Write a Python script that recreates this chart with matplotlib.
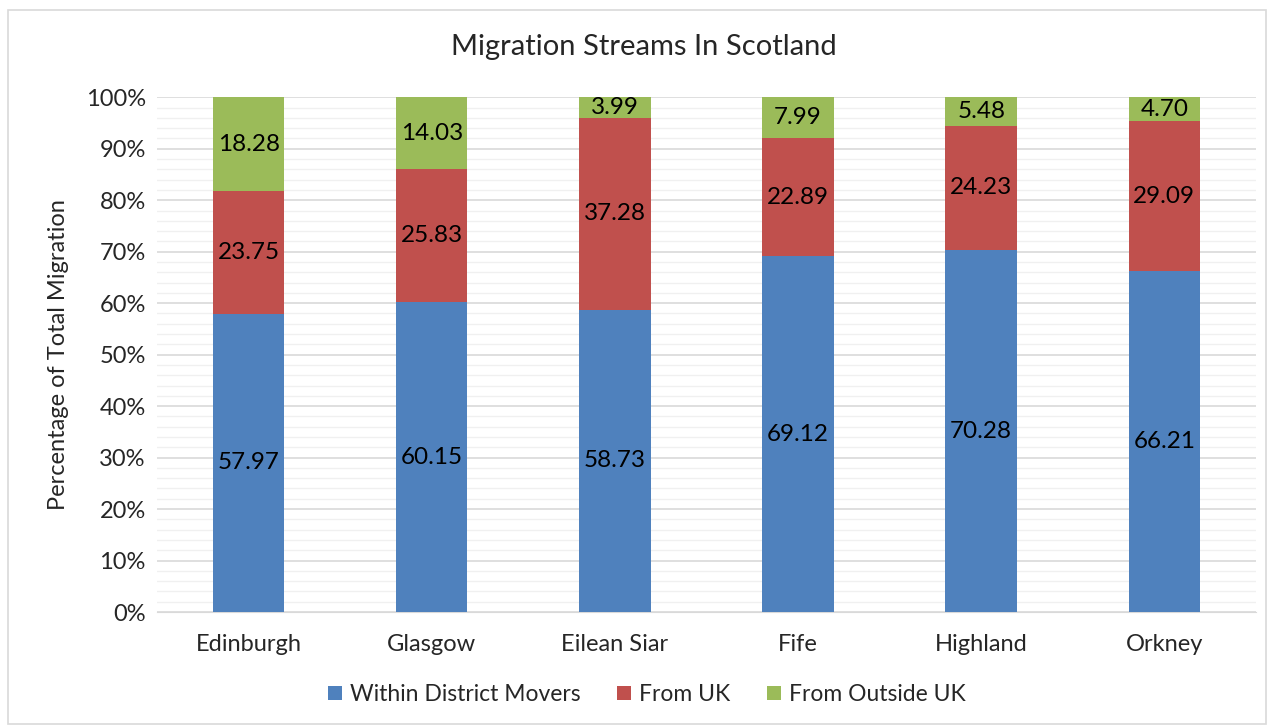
import matplotlib.pyplot as plt
import numpy as np
from matplotlib.patches import Rectangle
from matplotlib.ticker import MultipleLocator, PercentFormatter

plt.rcParams['font.family'] = ['Lato', 'DejaVu Sans']

districts = ['Edinburgh', 'Glasgow', 'Eilean Siar', 'Fife', 'Highland', 'Orkney']
within_district = [57.97, 60.15, 58.73, 69.12, 70.28, 66.21]
from_uk = [23.75, 25.83, 37.28, 22.89, 24.23, 29.09]
from_outside_uk = [18.28, 14.03, 3.99, 7.99, 5.48, 4.70]

series = [
    ('Within District Movers', within_district, '#4F81BD'),
    ('From UK', from_uk, '#C0504D'),
    ('From Outside UK', from_outside_uk, '#9BBB59'),
]

fig = plt.figure(figsize=(12.68, 7.26), dpi=100)
ax = fig.add_axes([0.1238, 0.157, 0.8667, 0.709])

# chart frame
fig.patches.append(Rectangle((0.0065, 0.003), 0.992, 0.983, transform=fig.transFigure,
                             fill=False, edgecolor='#D9D9D9', linewidth=1.2))

x = np.arange(len(districts))
bottom = np.zeros(len(districts))
for name, vals, color in series:
    vals = np.array(vals)
    bars = ax.bar(x, vals, width=0.39, bottom=bottom, color=color, label=name, zorder=3)
    ax.bar_label(bars, labels=[f'{v:.2f}' for v in vals], label_type='center',
                 fontsize=17.5, color='black')
    bottom += vals

ax.set_xlim(-0.5, len(districts) - 0.5)
ax.set_ylim(0, 100)
ax.yaxis.set_major_locator(MultipleLocator(10))
ax.yaxis.set_minor_locator(MultipleLocator(2))
ax.yaxis.set_major_formatter(PercentFormatter(decimals=0))
ax.grid(axis='y', which='major', color='#D9D9D9', linewidth=1.2, zorder=0)
ax.grid(axis='y', which='minor', color='#F0F0F0', linewidth=1.0, zorder=0)
ax.set_xticks(x)
ax.set_xticklabels(districts)
ax.tick_params(axis='both', which='both', length=0, labelsize=17, colors='#262626', pad=8)
ax.tick_params(axis='x', pad=16)
for s in ['top', 'right', 'left']:
    ax.spines[s].set_visible(False)
ax.spines['bottom'].set_color('#D9D9D9')

ax.set_ylabel('Percentage of Total Migration', fontsize=17, color='#262626', labelpad=12)
fig.text(0.508, 0.935, 'Migration Streams In Scotland', fontsize=21, color='#262626',
         ha='center', va='center')

fig.legend(loc='center', bbox_to_anchor=(0.51, 0.043), ncol=3, frameon=False,
           fontsize=16.5, handlelength=0.6, handleheight=0.6, columnspacing=1.6,
           handletextpad=0.35, labelcolor='#262626')

fig.savefig('out.png', dpi=100)
